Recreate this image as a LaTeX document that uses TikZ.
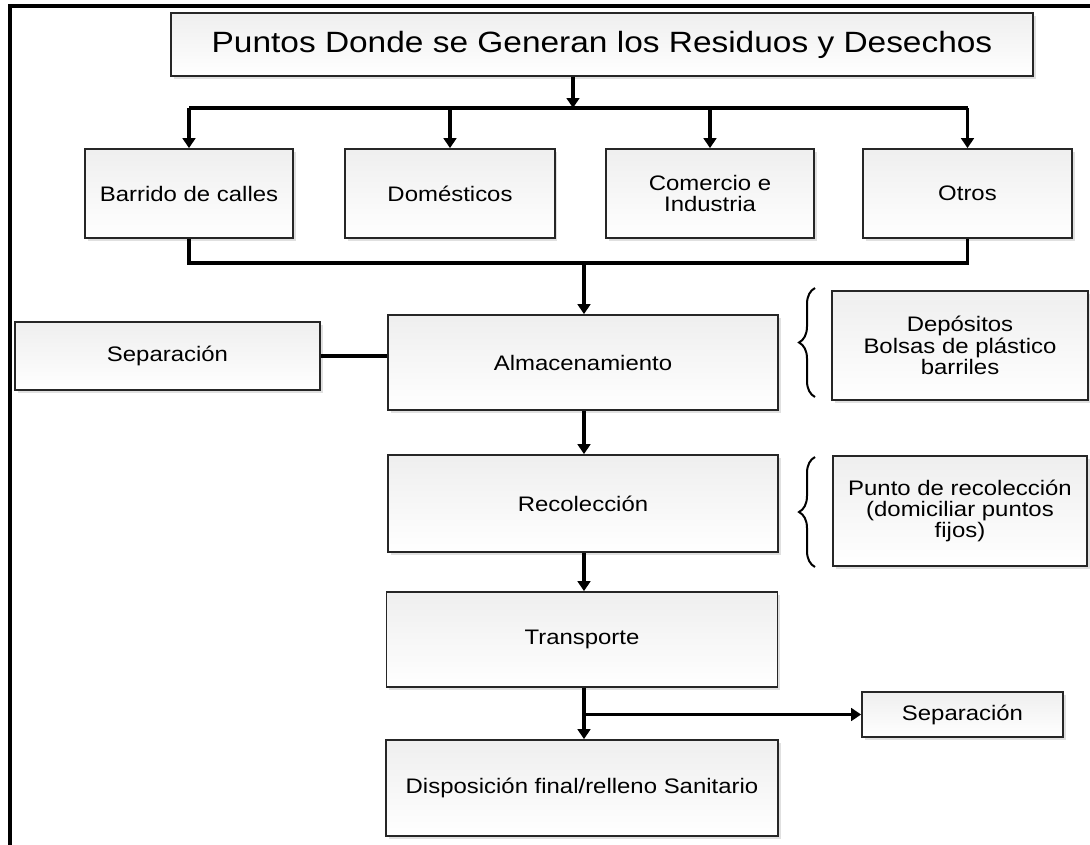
\documentclass[tikz,border=0pt]{standalone}
\usepackage{fontspec}
\setmainfont{Liberation Sans}[FakeStretch=1.14]
\usetikzlibrary{arrows.meta,shadows,decorations.pathreplacing}
\begin{document}
\begin{tikzpicture}[x=0.75pt,y=-0.75pt,
  box/.style={draw=black!85, line width=1.3pt, top color=gray!13, bottom color=white,
    drop shadow={shadow xshift=2pt,shadow yshift=-2pt,fill=gray!40,opacity=0.6},
    align=center, inner sep=2pt, font=\fontsize{15.75}{16}\selectfont},
  conn/.style={line width=2.6pt},
  arr/.style={conn, -{Triangle[width=9.5pt,length=7.5pt]}},
  frameline/.style={line width=3pt, line join=miter},
  brc/.style={decorate, decoration={brace, amplitude=12pt}, line width=1.5pt}]
\useasboundingbox (0,0) rectangle (1090,844);
\draw[frameline] (10,846) -- (10,6) -- (1092,6);

% title
\node[box, minimum width=646.5pt, minimum height=47.25pt, font=\fontsize{22}{26}\selectfont] (title) at (602,44.5) {Puntos Donde se Generan los Residuos y Desechos};

% row of sources
\node[box, minimum width=156pt, minimum height=66.75pt] (b1) at (189,193.5) {Barrido de calles};
\node[box, minimum width=157pt, minimum height=66.75pt] (b2) at (450,193.5) {Domésticos};
\node[box, minimum width=156pt, minimum height=66.75pt] (b3) at (710,193.5) {Comercio e\\Industria};
\node[box, minimum width=156.75pt, minimum height=66.75pt] (b4) at (967.5,193.5) {Otros};

% main chain
\node[box, minimum width=292.5pt, minimum height=71.25pt] (alm) at (583,362.5) {Almacenamiento};
\node[box, minimum width=228.75pt, minimum height=51pt] (sepL) at (167.5,356) {Separación};
\node[box, minimum width=192pt, minimum height=81.75pt] (dep) at (960,345.5) {Depósitos\\Bolsas de plástico\\barriles};
\node[box, minimum width=292.5pt, minimum height=72.75pt] (rec) at (583,503.5) {Recolección};
\node[box, minimum width=190.5pt, minimum height=82.5pt] (pun) at (960,511) {Punto de recolección\\(domiciliar puntos\\fijos)};
\node[box, minimum width=293.25pt, minimum height=71.25pt] (tra) at (582,639.5) {Transporte};
\node[box, minimum width=150.75pt, minimum height=33.75pt] (sepR) at (962.5,714.5) {Separación};
\node[box, minimum width=294pt, minimum height=72pt] (dis) at (582,788) {Disposición final/relleno Sanitario};

% connectors
\coordinate (j1) at (573,108);
\coordinate (j2) at (584,263);
\draw[arr] (title.south -| j1) -- (j1);
\draw[conn] (b1.north |- j1) -- (b4.north |- j1);
\draw[arr] (b1.north |- j1) -- (b1.north);
\draw[arr] (b2.north |- j1) -- (b2.north);
\draw[arr] (b3.north |- j1) -- (b3.north);
\draw[arr] (b4.north |- j1) -- (b4.north);
\draw[conn, line join=miter] (b1.south) -- (b1.south |- j2) -- (b4.south |- j2) -- (b4.south);
\draw[arr] (j2) -- (alm.north -| j2);
\draw[conn] (sepL.east) -- (sepL.east -| alm.west);
\draw[arr] (alm.south -| j2) -- (rec.north -| j2);
\draw[arr] (rec.south -| j2) -- (tra.north -| j2);
\draw[arr] (tra.south -| j2) -- (dis.north -| j2);
\draw[arr] (tra.south -| j2) |- (sepR.west);

% braces
\coordinate (br1a) at (815,397);
\coordinate (br1b) at (815,288);
\coordinate (br2a) at (815,567);
\coordinate (br2b) at (815,457);
\draw[brc] (br1a) -- (br1b);
\draw[brc] (br2a) -- (br2b);
\end{tikzpicture}
\end{document}
